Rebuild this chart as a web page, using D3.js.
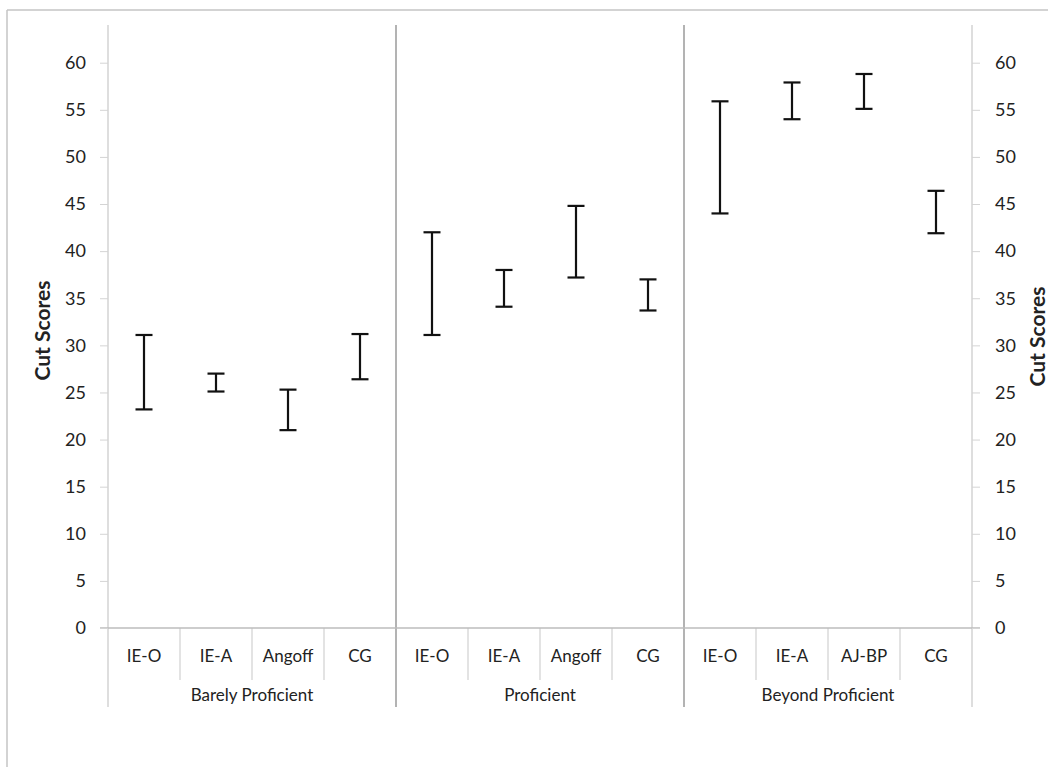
<!DOCTYPE html>
<html>
<head>
<meta charset="utf-8">
<script src="https://cdn.jsdelivr.net/npm/d3@7"></script>
<style>
  html, body { margin: 0; padding: 0; background: #fff; }
  svg { display: block; }
  text { font-family: Lato, "Liberation Sans", sans-serif; fill: #222; }
</style>
</head>
<body>
<script>
// ---- data ----
const groups = ["Barely Proficient", "Proficient", "Beyond Proficient"];
const categories = [
  ["IE-O", "IE-A", "Angoff", "CG"],
  ["IE-O", "IE-A", "Angoff", "CG"],
  ["IE-O", "IE-A", "AJ-BP", "CG"]
];
const lowValues = [
  [23.2, 25.1, 21.0, 26.4],
  [31.1, 34.1, 37.2, 33.7],
  [44.0, 54.0, 55.1, 41.9]
];
const highValues = [
  [31.1, 27.0, 25.3, 31.2],
  [42.0, 38.0, 44.8, 37.0],
  [55.9, 57.9, 58.8, 46.4]
];
const yTicks = [0, 5, 10, 15, 20, 25, 30, 35, 40, 45, 50, 55, 60];
const yTitle = "Cut Scores";

// ---- layout ----
const W = 1048, H = 767;
const plotLeft = 108, plotRight = 972, plotTop = 25, plotBottom = 628;

const svg = d3.select("body").append("svg").attr("width", W).attr("height", H);

// outer frame (cropped chart area border)
svg.append("line").attr("x1", 7).attr("x2", 7).attr("y1", 10).attr("y2", H)
  .attr("stroke", "#c4c4c4").attr("stroke-width", 1.5);
svg.append("line").attr("x1", 7).attr("x2", W).attr("y1", 10).attr("y2", 10)
  .attr("stroke", "#c4c4c4").attr("stroke-width", 1.5);

const y = d3.scaleLinear().domain([0, 64]).range([plotBottom, plotTop]);

const flat = [];
groups.forEach((g, gi) => categories[gi].forEach((c, ci) => {
  flat.push({ key: gi + "-" + ci, group: g, cat: c, lo: lowValues[gi][ci], hi: highValues[gi][ci] });
}));

const xGroup = d3.scaleBand().domain(groups).range([plotLeft, plotRight]).padding(0);
const x = d3.scaleBand().domain(flat.map(d => d.key)).range([plotLeft, plotRight]).padding(0);

// left & right axis lines
[plotLeft, plotRight].forEach(px => {
  svg.append("line").attr("x1", px).attr("x2", px).attr("y1", plotTop).attr("y2", 707)
    .attr("stroke", "#c8c8c8").attr("stroke-width", 1.2);
});
// group separators
groups.slice(1).forEach(g => {
  const px = xGroup(g);
  svg.append("line").attr("x1", px).attr("x2", px).attr("y1", plotTop).attr("y2", 707)
    .attr("stroke", "#8a8a8a").attr("stroke-width", 1.3);
});
// category separators below x-axis
flat.forEach((d, i) => {
  if (i % 4 === 0) return;
  const px = x(d.key);
  svg.append("line").attr("x1", px).attr("x2", px).attr("y1", plotBottom).attr("y2", 680)
    .attr("stroke", "#d0d0d0").attr("stroke-width", 1.2);
});
// x-axis baseline
svg.append("line").attr("x1", plotLeft - 8).attr("x2", plotRight + 8)
  .attr("y1", y(0)).attr("y2", y(0)).attr("stroke", "#bdbdbd").attr("stroke-width", 1.5);

// y axes labels
const leftAxis = d3.axisLeft(y).tickValues(yTicks).tickSize(8).tickPadding(14);
const gl = svg.append("g").attr("transform", `translate(${plotLeft},0)`).call(leftAxis);
gl.select(".domain").remove();
gl.selectAll(".tick line").attr("stroke", "#d4d4d4");
gl.selectAll(".tick text").style("font-size", "18px").style("font-family", "Lato, sans-serif").attr("fill", "#222");

const rightAxis = d3.axisRight(y).tickValues(yTicks).tickSize(8).tickPadding(15);
const gr = svg.append("g").attr("transform", `translate(${plotRight},0)`).call(rightAxis);
gr.select(".domain").remove();
gr.selectAll(".tick line").attr("stroke", "#d4d4d4");
gr.selectAll(".tick text").style("font-size", "18px").style("font-family", "Lato, sans-serif").attr("fill", "#222");

// axis titles
const midY = (plotTop + plotBottom) / 2 + 4;
svg.append("text").attr("transform", `translate(50,${midY}) rotate(-90)`)
  .attr("text-anchor", "middle").style("font-size", "21px").style("font-weight", "bold").text(yTitle);
svg.append("text").attr("transform", `translate(1045,${midY + 6}) rotate(-90)`)
  .attr("text-anchor", "middle").style("font-size", "21px").style("font-weight", "bold").text(yTitle);

// category labels
svg.selectAll("text.cat").data(flat).enter().append("text").attr("class", "cat")
  .attr("x", d => x(d.key) + x.bandwidth() / 2).attr("y", 658)
  .attr("text-anchor", "middle").attr("dominant-baseline", "middle")
  .style("font-size", "17px").text(d => d.cat);

// group labels
svg.selectAll("text.grp").data(groups).enter().append("text").attr("class", "grp")
  .attr("x", d => xGroup(d) + xGroup.bandwidth() / 2).attr("y", 697)
  .attr("text-anchor", "middle").attr("dominant-baseline", "middle")
  .style("font-size", "17px").text(d => d);

// error bars
const cap = 8.5;
const bars = svg.append("g").selectAll("g").data(flat).enter().append("g")
  .attr("stroke", "#111").attr("stroke-width", 2.2);
bars.append("line")
  .attr("x1", d => x(d.key) + x.bandwidth() / 2).attr("x2", d => x(d.key) + x.bandwidth() / 2)
  .attr("y1", d => y(d.lo)).attr("y2", d => y(d.hi));
bars.append("line")
  .attr("x1", d => x(d.key) + x.bandwidth() / 2 - cap).attr("x2", d => x(d.key) + x.bandwidth() / 2 + cap)
  .attr("y1", d => y(d.hi)).attr("y2", d => y(d.hi));
bars.append("line")
  .attr("x1", d => x(d.key) + x.bandwidth() / 2 - cap).attr("x2", d => x(d.key) + x.bandwidth() / 2 + cap)
  .attr("y1", d => y(d.lo)).attr("y2", d => y(d.lo));
</script>
</body>
</html>
